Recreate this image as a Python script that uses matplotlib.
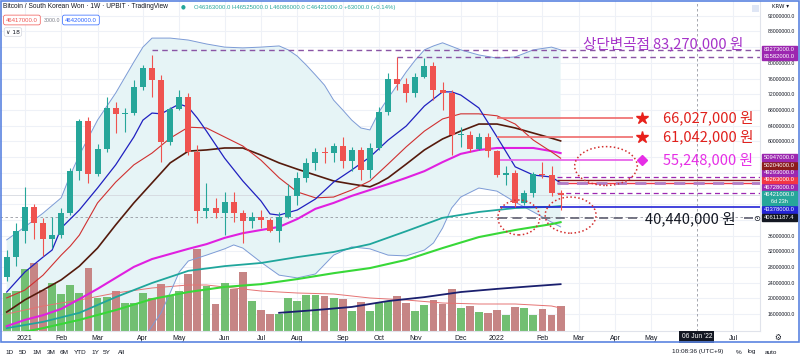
import numpy as np
import pandas as pd
import matplotlib
matplotlib.use('Agg')
import matplotlib.pyplot as plt
from matplotlib.patches import Ellipse, Rectangle
from matplotlib.transforms import blended_transform_factory

plt.rcParams['font.family'] = ['Liberation Sans', 'DejaVu Sans']
KR = ['Noto Sans CJK KR', 'DejaVu Sans']

# 주봉 시작일 (첫 캔들)
START = pd.Timestamp('2020-12-21')

# OHLC, 백만원 단위
opens = [25.4, 30.6, 37.2, 43.2, 39.3, 35.2, 36.1, 41.7, 52.5, 65.3,
         51.7, 58.0, 68.4, 67.0, 67.1, 73.9, 78.6, 75.6, 59.8, 68.2,
         71.4, 57.4, 42.3, 42.9, 41.7, 44.5, 41.7, 39.7, 40.8, 40.0,
         37.2, 40.8, 46.1, 50.7, 54.4, 57.4, 57.1, 58.9, 55.1, 57.8,
         52.7, 58.2, 67.5, 75.8, 74.5, 72.2, 76.5, 79.2, 73.1, 72.2,
         61.6, 61.7, 58.0, 61.2, 57.6, 51.4, 52.0, 44.2, 46.9, 51.6,
         51.4, 46.9]
highs = [32.3, 39.3, 48.4, 44.0, 40.4, 40.8, 42.9, 53.2, 65.7, 66.2,
         59.3, 71.2, 70.1, 68.4, 75.6, 79.4, 82.0, 76.9, 68.8, 73.1,
         72.2, 59.1, 49.3, 45.5, 47.2, 47.2, 42.5, 42.1, 42.5, 40.5,
         42.1, 49.0, 52.3, 55.7, 58.2, 58.5, 59.5, 61.0, 58.5, 58.5,
         59.5, 68.8, 77.5, 81.6, 76.1, 77.3, 81.2, 80.3, 75.2, 73.1,
         63.7, 62.6, 62.0, 62.1, 57.8, 53.7, 52.7, 47.6, 52.2, 54.8,
         53.7, 47.6]
lows = [24.5, 28.2, 34.0, 35.0, 30.8, 32.7, 35.4, 41.2, 50.1, 49.5,
        51.2, 57.2, 62.0, 62.4, 66.7, 73.1, 71.4, 54.8, 59.1, 68.0,
        56.5, 39.3, 40.4, 40.5, 36.1, 39.5, 34.0, 37.8, 37.8, 36.9,
        34.4, 40.5, 43.8, 49.7, 52.7, 54.4, 54.8, 53.3, 52.5, 50.1,
        50.6, 57.8, 66.7, 73.1, 70.1, 71.4, 76.1, 70.5, 68.0, 56.5,
        58.6, 57.4, 57.8, 56.1, 51.0, 48.9, 43.3, 43.8, 45.9, 50.7,
        46.1, 42.5]
closes = [30.6, 37.2, 43.2, 39.3, 35.2, 36.1, 41.7, 52.5, 65.3, 51.7,
          58.0, 68.4, 67.0, 67.1, 73.9, 78.6, 75.6, 59.8, 68.2, 71.4,
          57.4, 42.3, 42.9, 41.7, 44.5, 41.7, 39.7, 40.8, 40.0, 37.2,
          40.8, 46.1, 50.7, 54.4, 57.4, 57.1, 58.9, 55.1, 57.8, 52.7,
          58.2, 67.5, 75.8, 74.5, 72.2, 76.5, 79.2, 73.1, 72.2, 61.6,
          61.7, 58.0, 61.2, 57.6, 51.4, 52.0, 44.2, 46.9, 51.6, 51.4,
          46.9, 46.42]
# 거래량 (천 BTC, 막대 높이로 읽음)
volumes = [38, 40, 62, 68, 41, 48, 37, 46, 38, 63,
           33, 34, 40, 28, 28, 38, 33, 47, 35, 40,
           57, 82, 45, 27, 48, 42, 59, 30, 21, 17,
           17, 33, 30, 36, 36, 35, 33, 32, 20, 29,
           20, 28, 30, 35, 28, 20, 26, 31, 27, 42,
           23, 25, 19, 18, 21, 16, 24, 23, 16, 22,
           16, 25]

# 이동평균선들 (주 번호, 값)
blue_k = [0, 2, 4, 5, 6, 8, 10, 12, 14, 15, 16, 17, 19, 20, 21, 22, 24, 26, 28, 29,
          30, 32, 34, 36, 38, 40, 42, 43, 44, 46, 48, 49, 50, 52, 54, 56, 58, 60, 61]
blue_v = [21.6, 26.7, 30.5, 32.3, 37.9, 42.5, 48.1, 54.0, 61.1, 65.4, 67.2, 67.0, 69.5,
          68.7, 65.9, 62.6, 55.7, 49.9, 44.8, 41.5, 41.2, 42.5, 45.3, 49.6, 52.7, 56.0,
          60.3, 62.1, 63.9, 69.0, 72.6, 72.6, 71.8, 68.5, 61.1, 53.5, 51.4, 50.9, 49.4]
red_k = [0, 2, 4, 6, 7, 8, 10, 12, 14, 16, 18, 20, 22, 24, 26, 28, 30, 32, 34, 36, 38,
         40, 42, 44, 46, 48, 50, 52, 54, 56, 58, 60, 61]
red_v = [20.1, 22.1, 25.9, 31.0, 33.3, 36.1, 44.3, 49.6, 54.0, 57.0, 60.8, 63.6, 63.4,
         61.1, 58.8, 55.2, 50.7, 47.1, 45.6, 45.8, 47.6, 49.9, 54.2, 58.6, 62.6, 65.7,
         67.0, 67.0, 66.5, 64.4, 60.3, 57.3, 55.7]
brown_k = [0, 2, 4, 6, 8, 10, 12, 14, 16, 18, 20, 22, 24, 26, 28, 30, 32, 34, 36, 38,
           40, 41, 42, 44, 46, 48, 50, 52, 54, 56, 58, 60, 61]
brown_v = [16.5, 19.6, 22.1, 24.7, 28.2, 32.8, 38.7, 44.3, 49.4, 54.5, 57.5, 57.8, 58.3,
           58.3, 56.5, 54.5, 52.9, 51.4, 49.9, 49.1, 48.4, 49.4, 50.7, 54.2, 57.8, 60.6,
           62.6, 64.4, 64.4, 63.4, 62.1, 60.8, 60.1]
mag_k = [0, 2, 4, 6, 8, 10, 12, 14, 16, 18, 20, 22, 24, 26, 28, 30, 32, 34, 36, 38, 40,
         42, 44, 46, 48, 50, 52, 54, 56, 58, 60, 61]
mag_v = [12.9, 14.5, 15.7, 17.3, 19.8, 22.4, 25.2, 28.0, 30.0, 31.3, 32.6, 33.8, 35.4,
         36.6, 37.4, 38.2, 40.2, 42.8, 44.3, 46.1, 47.6, 49.1, 50.7, 52.4, 54.7, 56.8,
         57.8, 58.3, 58.3, 58.3, 57.5, 57.0]
teal_k = [0, 4, 8, 12, 16, 20, 24, 28, 32, 36, 40, 44, 48, 52, 56, 60, 61]
teal_v = [12.4, 14.0, 16.3, 20.3, 23.9, 27.0, 28.2, 29.0, 30.5, 31.8, 33.8, 37.1, 40.5,
          42.0, 43.0, 43.3, 43.5]
green_k = [0, 2, 4, 8, 12, 16, 20, 24, 28, 32, 36, 40, 44, 48, 52, 56, 60, 61]
green_v = [10.8, 11.5, 12.4, 14.5, 17.0, 19.8, 21.6, 22.9, 23.6, 24.9, 26.4, 27.7, 29.8,
           32.8, 35.6, 37.4, 38.9, 39.4]
navy_k = [30, 34, 38, 42, 46, 50, 54, 58, 61]
navy_v = [16.3, 17.0, 17.8, 19.3, 20.3, 21.6, 22.4, 23.1, 23.6]

# 볼린저 밴드
bbu_k = [0, 2, 4, 6, 7, 8, 10, 12, 14, 15, 16, 18, 20, 22, 24, 26, 28, 30, 31, 32, 33,
         34, 35, 36, 37, 38, 39, 40, 41, 42, 43, 44, 45, 46, 47, 48, 50, 52, 54, 56, 58,
         60, 61]
bbu_v = [34.9, 38.2, 41.7, 45.6, 51.4, 56.5, 65.4, 72.3, 80.2, 84.0, 86.3, 86.3, 85.8,
         84.8, 84.0, 83.8, 84.0, 84.3, 83.3, 81.7, 79.4, 76.9, 74.3, 70.5, 68.0, 65.4,
         63.4, 62.9, 67.5, 71.0, 74.3, 77.7, 80.7, 83.3, 84.3, 85.1, 83.3, 82.0, 81.2,
         81.5, 83.3, 84.0, 83.3]
bbl_k = [0, 4, 8, 12, 15, 16, 17, 18, 19, 20, 22, 24, 25, 26, 28, 30, 32, 34, 36, 38,
         40, 42, 44, 46, 47, 48, 49, 50, 52, 54, 56, 58, 60, 61]
bbl_v = [10.5, 9.0, 5.0, 4.0, 9.4, 12.9, 16.3, 21.4, 26.7, 29.5, 31.0, 32.6, 33.6, 32.8,
         29.2, 25.9, 25.2, 26.2, 31.0, 33.1, 32.6, 31.0, 30.8, 32.3, 34.1, 37.9, 43.0,
         45.8, 48.1, 47.3, 44.5, 42.0, 39.4, 38.2]

# 거래량 이동평균
vma_k = [0, 4, 8, 12, 16, 20, 22, 24, 28, 32, 36, 40, 44, 48, 52, 56, 60, 61]
vma_v = [17, 25, 31, 38, 43, 46, 46, 44, 40, 38, 37, 33, 31, 28, 27, 27, 25, 23]

# 작도선 값
top_levels = [83.273, 81.582]
top_start = [16, 43]
targets = [66.027, 61.042]
target_mid = 55.248
support = 40.44
blue_level = 43.378
right_levels = [50.947, 50.204, 49.293, 49.263, 46.728]
last_price = 46.421
cross_price = 40.6111874
cross_date = pd.Timestamp('2022-06-06')

# 우측 가격축 라벨 (값, 색)
PURPLE = '#9c27b0'
axis_labels = [(83.273, PURPLE), (81.582, PURPLE), (50.947, PURPLE), (50.204, '#8b1c1c'),
               (49.293, PURPLE), (49.263, '#f23645'), (46.728, PURPLE),
               (43.378, '#2424d6'), (cross_price, '#131722')]

XMIN, XMAX = -0.74, 82.96
YMIN, YMAX = 11.67, 95.75
VOL_TOP = 330.0
GAP = 1.87


def px(x, y):
    return x / 800, 1 - y / 360


# 라벨 위치 쌓기 (현재가 기준 위/아래)
above = sorted([a for a in axis_labels if a[0] > last_price], key=lambda a: a[0])
below = sorted([a for a in axis_labels if a[0] < last_price], key=lambda a: -a[0])
placed = []
prev = last_price
for v, col in above:
    pos = max(v, prev + GAP)
    placed.append((v, pos, col))
    prev = pos
prev = last_price - GAP
for v, col in below:
    pos = min(v, prev - GAP)
    placed.append((v, pos, col))
    prev = pos
box_centers = [p[1] for p in placed] + [last_price, last_price - GAP]

fig = plt.figure(figsize=(8, 3.6), dpi=100)
ax = fig.add_axes([0, 29 / 360, 760 / 800, 330 / 360])
ax.set_xlim(XMIN, XMAX)
ax.set_ylim(YMIN, YMAX)

kk = np.arange(len(closes))
o, h, l, c = map(np.array, (opens, highs, lows, closes))
up = c >= o

# 축과 격자
price_ticks = np.arange(16, 93, 4)
ax.set_yticks(price_ticks)
ax.set_yticklabels(['' if min(abs(v - b) for b in box_centers) < 1.4 else f'{v * 1e6:.1f}'
                    for v in price_ticks])
ax.yaxis.tick_right()
ax.tick_params(axis='y', length=0, labelsize=3.7, pad=15.5, labelcolor='#131722')
for t in ax.get_yticklabels():
    t.set_horizontalalignment('center')

xt, xl = [], []
for m in pd.date_range('2021-01-01', '2022-07-01', freq='MS'):
    if m == cross_date.replace(day=1):
        continue
    first_mon = m + pd.Timedelta(days=(7 - m.weekday()) % 7)
    xt.append((first_mon - START).days / 7)
    xl.append(str(m.year) if m.month == 1 else m.strftime('%b'))
ax.set_xticks(xt)
ax.set_xticklabels(xl)
ax.tick_params(axis='x', length=0, labelsize=5, pad=3, labelcolor='#131722')
ax.grid(True, color='#eef1f7', lw=0.8)
ax.set_axisbelow(True)
for s in ['top', 'left']:
    ax.spines[s].set_visible(False)
for s in ['right', 'bottom']:
    ax.spines[s].set_color('#e0e3eb')
    ax.spines[s].set_linewidth(0.8)

# 볼린저 밴드
ax.fill(np.r_[bbu_k, bbl_k[::-1]], np.r_[bbu_v, bbl_v[::-1]], color='#e6f4f6', lw=0, zorder=1)
ax.plot(bbu_k, bbu_v, color='#7d9bd6', lw=0.7, zorder=3)
ax.plot(bbl_k, bbl_v, color='#7d9bd6', lw=0.7, zorder=3)

# 거래량
trans = blended_transform_factory(ax.transData, ax.transAxes)
vcol = np.where(up, '#72bf72', '#c68585')
ax.bar(kk, np.array(volumes) / VOL_TOP, width=0.86, bottom=0, color=vcol,
       transform=trans, zorder=2)
ax.plot(vma_k, np.array(vma_v) / VOL_TOP, color='#e57373', lw=0.7, transform=trans, zorder=2.5)

# 이평선
ax.plot(navy_k, navy_v, color='#1a1f6e', lw=1.3, zorder=3)
ax.plot(green_k, green_v, color='#38d838', lw=1.5, zorder=3)
ax.plot(teal_k, teal_v, color='#1fa69c', lw=1.3, zorder=3)
ax.plot(mag_k, mag_v, color='#e020e0', lw=1.5, zorder=3)
ax.plot(brown_k, brown_v, color='#551a0c', lw=1.2, zorder=3)
ax.plot(red_k, red_v, color='#d03030', lw=0.8, zorder=3)
ax.plot(blue_k, blue_v, color='#2020c0', lw=0.9, zorder=3)

# 캔들
ccol = np.where(up, '#26a69a', '#ef5350')
ax.vlines(kk, l, h, colors=ccol, lw=0.8, zorder=4)
ax.bar(kk, np.maximum(np.abs(c - o), 0.18), bottom=np.minimum(o, c), width=0.66,
       color=ccol, zorder=5)

# 현재가 / 십자선
ax.axhline(last_price, color='#d5d8df', lw=0.6, zorder=1.5)
cross_k = (cross_date - START).days / 7
ax.axhline(cross_price, color='#9598a1', lw=0.6, dashes=(3, 3), zorder=1.5)
ax.axvline(cross_k, color='#9598a1', lw=0.6, dashes=(3, 3), zorder=1.5)

# 상단 점선
for lv, st in zip(top_levels, top_start):
    ax.hlines(lv, st, XMAX, colors='#8a55a5', lw=1.0, linestyles=(0, (4, 3)), zorder=3)

# 목표선
for lv in targets:
    ax.hlines(lv, 54.0, 69.0, colors='#ef6b6b', lw=1.2, zorder=3)
    ax.plot(70.0, lv, marker='*', ms=9, color='#e8211c', zorder=6)
ax.hlines(target_mid, 54.3, 69.0, colors='#e65ae6', lw=1.2, zorder=3)
ax.plot(70.0, target_mid, marker='D', ms=5.5, color='#e62ee6', zorder=6)

# 우측 짧은 선들
ax.hlines(right_levels[0], 60.6, XMAX, colors=PURPLE, lw=0.9, linestyles=(0, (4, 3)), zorder=3)
ax.hlines(right_levels[1], 60.6, XMAX, colors='#8b1c1c', lw=1.0, zorder=3)
ax.hlines(right_levels[3], 60.6, XMAX, colors='#f23645', lw=1.0, zorder=3)
ax.hlines(right_levels[2], 60.6, XMAX, colors='#b07cc6', lw=2.0, linestyles=(0, (4, 3)), zorder=3)
ax.hlines(right_levels[4], 60.6, XMAX, colors=PURPLE, lw=0.9, linestyles=(0, (4, 3)), zorder=3)
ax.hlines(blue_level, 54.3, XMAX, colors='#2424d6', lw=1.2, zorder=3)
ax.hlines(support, 54.1, 69.6, colors='#6b6b7b', lw=1.3, linestyles=(0, (5, 3)), zorder=3)
ax.hlines(support, 81.2, 82.2, colors='#6b6b7b', lw=1.3, zorder=3)

# 타원
for (cx, cy, w, hh) in [(66.0, 53.7, 6.9, 9.9), (56.4, 40.6, 4.6, 8.9), (62.1, 41.2, 5.6, 9.2)]:
    ax.add_patch(Ellipse((cx, cy), w, hh, fill=False, ec='#d32f2f', lw=1.1,
                         ls=(0, (1, 1.6)), zorder=6))

# 주석 텍스트
ax.text(63.5, 84.9, '상단변곡점 83,270,000 원', color='#a633c9', fontsize=10.5,
        family=KR, va='center', ha='left', zorder=7)
ax.text(72.3, targets[0], '66,027,000 원', color='#e0201c', fontsize=10.5,
        family=KR, va='center', ha='left', zorder=7)
ax.text(72.3, targets[1], '61,042,000 원', color='#e0201c', fontsize=10.5,
        family=KR, va='center', ha='left', zorder=7)
ax.text(72.3, target_mid, '55,248,000 원', color='#e62ee6', fontsize=10.5,
        family=KR, va='center', ha='left', zorder=7)
ax.text(70.3, support - 0.15, '40,440,000 원', color='#131722', fontsize=10.5,
        family=KR, va='center', ha='left', zorder=7)
ax.text(82.6, support, '⊙', color='#131722', fontsize=6, family=['DejaVu Sans'],
        va='center', ha='center', zorder=7)

# 우측 가격 라벨 박스
lab_t = blended_transform_factory(ax.transAxes, ax.transData)
X0, X1 = 762 / 760, 797 / 760
for v, pos, col in placed:
    ax.add_patch(Rectangle((X0, pos - GAP * 0.47), X1 - X0, GAP * 0.94, transform=lab_t,
                           color=col, clip_on=False, zorder=8))
    ax.text((X0 + X1) / 2, pos, f'{v * 1e6:.1f}' if v != cross_price else '40611187.4',
            transform=lab_t, color='white', fontsize=4.2, ha='center', va='center',
            clip_on=False, zorder=9)
ax.add_patch(Rectangle((X0, last_price - GAP * 1.47), X1 - X0, GAP * 1.94, transform=lab_t,
                       color='#26a69a', clip_on=False, zorder=8))
ax.text((X0 + X1) / 2, last_price, f'{last_price * 1e6:.1f}', transform=lab_t, color='white',
        fontsize=4.2, ha='center', va='center', clip_on=False, zorder=9)
ax.text((X0 + X1) / 2, last_price - GAP, '6d 23h', transform=lab_t, color='white',
        fontsize=4.0, ha='center', va='center', clip_on=False, zorder=9)

# 십자선 날짜 라벨
ax.text(cross_k, -0.018, "06 Jun '22", transform=trans, color='white', fontsize=4.8,
        ha='center', va='center', clip_on=False, zorder=9,
        bbox=dict(boxstyle='square,pad=0.35', fc='#131722', ec='none'))

# 헤더
fig.text(*px(3, 7), 'Bitcoin / South Korean Won · 1W · UPBIT · TradingView', fontsize=4.8,
         color='#131722', va='center')
fig.text(*px(183, 7), '●', fontsize=4, color='#26a69a', va='center', ha='center',
         family=['DejaVu Sans'])
fig.text(*px(194, 7), 'O46363000.0 H46525000.0 L46086000.0 C46421000.0 +63000.0 (+0.14%)',
         fontsize=4.3, color='#26a69a', va='center')
fig.text(*px(6, 20), '46417000.0', fontsize=4.3, color='#ef5350', va='center',
         bbox=dict(boxstyle='round,pad=0.4,rounding_size=0.3', fc='white', ec='#ef5350', lw=0.5))
fig.text(*px(44, 20), '3000.0', fontsize=3.8, color='#787b86', va='center')
fig.text(*px(65, 20), '46420000.0', fontsize=4.3, color='#2962ff', va='center',
         bbox=dict(boxstyle='round,pad=0.4,rounding_size=0.3', fc='white', ec='#2962ff', lw=0.5))
fig.text(*px(6, 32), '∨ 18', fontsize=4.3, color='#131722', va='center',
         family=['DejaVu Sans'],
         bbox=dict(boxstyle='round,pad=0.3', fc='white', ec='#d1d4dc', lw=0.5))
fig.text(*px(781, 6), 'KRW ▾', fontsize=4, color='#131722', va='center', ha='center',
         family=['DejaVu Sans'])
fig.add_artist(Rectangle(px(752, 12), 7 / 800, 7 / 360, transform=fig.transFigure,
                         fc='#dfe6f5', ec='none'))
fig.text(*px(778, 337), '⚙', fontsize=5.5, color='#131722', va='center', ha='center',
         family=['DejaVu Sans'])

# 하단 툴바
for x, t in zip([10, 23, 37, 51, 64, 80, 95, 107, 121],
                ['1D', '5D', '1M', '3M', '6M', 'YTD', '1Y', '5Y', 'All']):
    fig.text(*px(x, 352), t, fontsize=4.6, color='#131722', va='center', ha='center')
fig.text(*px(698, 352), '10:08:36 (UTC+9)', fontsize=4.6, color='#131722', va='center',
         ha='center')
for x, t in zip([739, 752, 771], ['%', 'log', 'auto']):
    fig.text(*px(x, 352), t, fontsize=4.6, color='#131722', va='center', ha='center')

# 차트 테두리
fig.add_artist(Rectangle((0.6 / 800, 1 - 342 / 360), 798.8 / 800, 341.4 / 360,
                         transform=fig.transFigure, fill=False, ec='#5b84e0', lw=1.2))

fig.savefig('out.png', dpi=100)
